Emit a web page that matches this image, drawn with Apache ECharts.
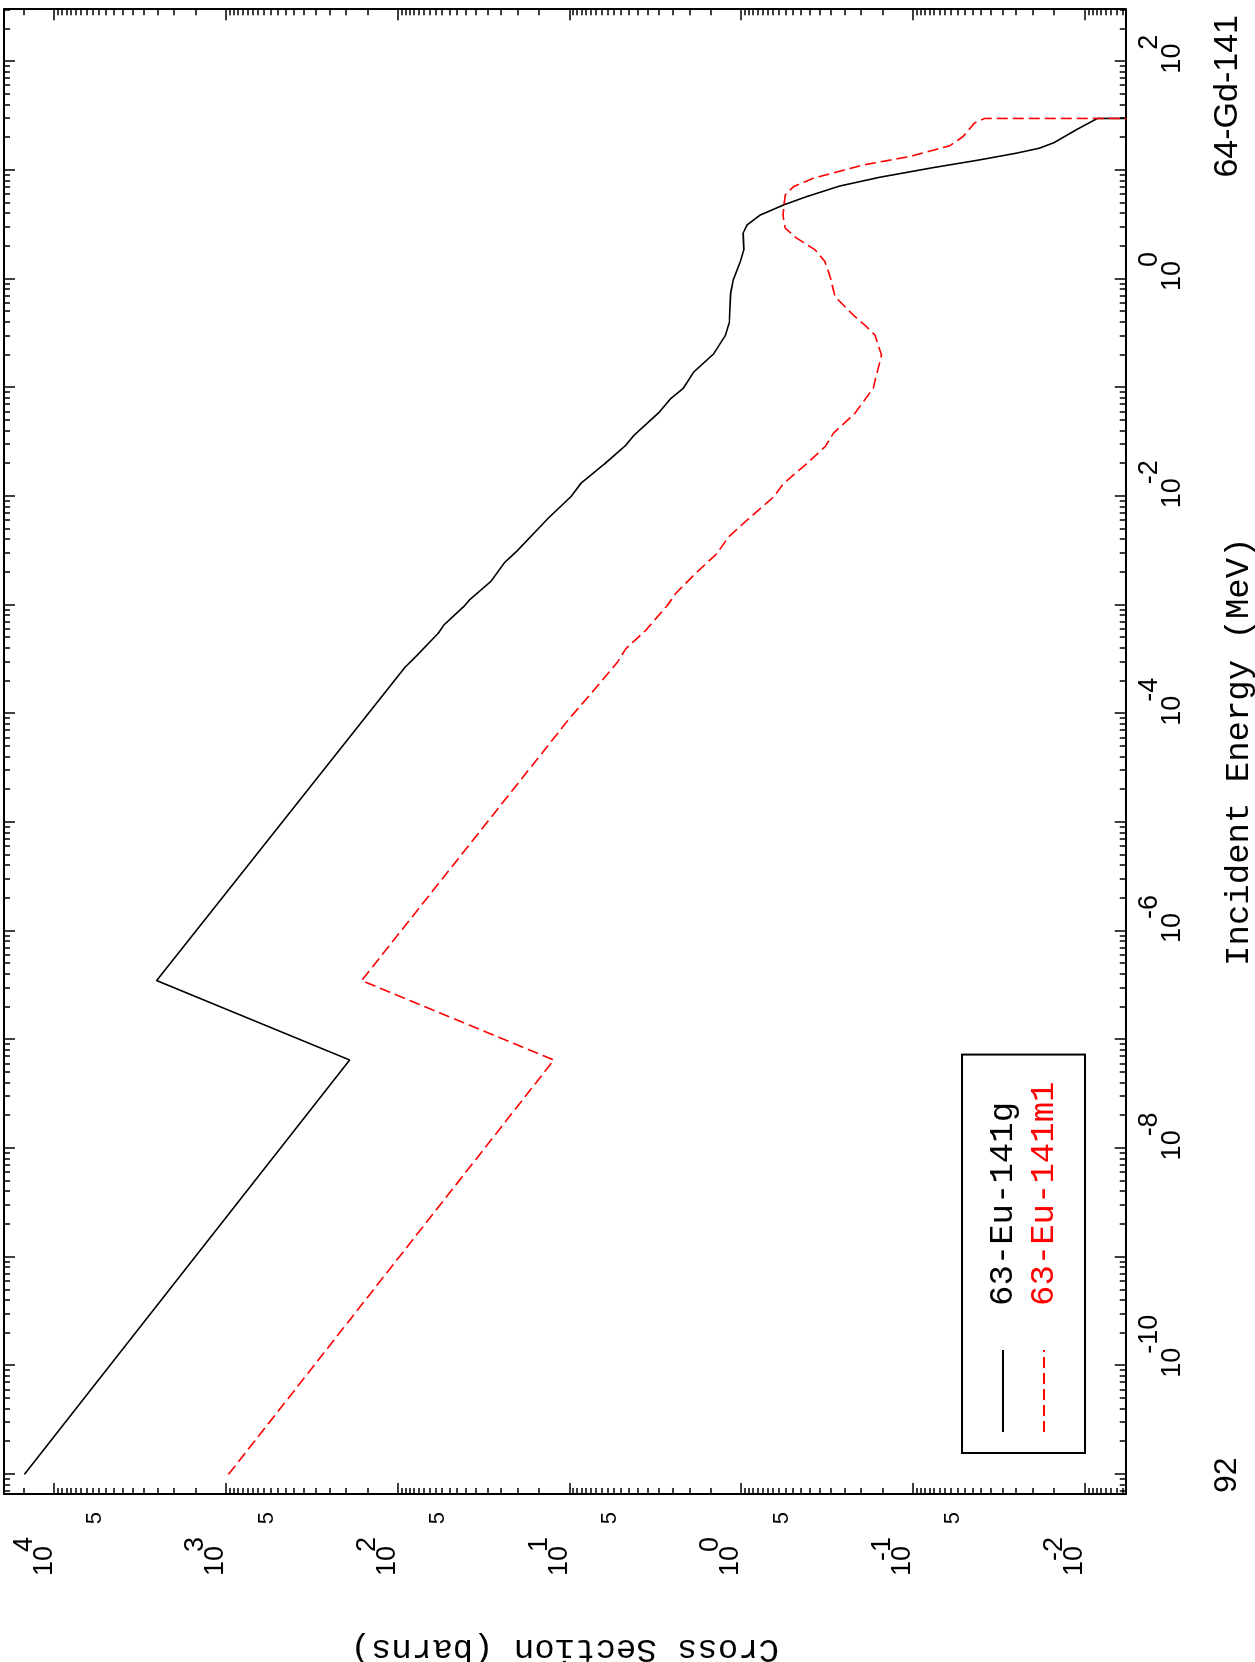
<!DOCTYPE html>
<html>
<head>
<meta charset="utf-8">
<title>63-Eu-141 to 64-Gd-141</title>
<style>
  html, body { margin: 0; padding: 0; background: #fff; }
  #page { position: relative; width: 1255px; height: 1662px; overflow: hidden; }
  /* plot is laid out landscape, then turned a quarter turn counter-clockwise */
  #main {
    position: absolute; left: 0; top: 0;
    width: 1662px; height: 1255px;
    transform-origin: 0 0;
    transform: translateY(1662px) rotate(-90deg);
  }
</style>
</head>
<body>
<div id="page"><div id="main"></div></div>

<script src="https://cdn.jsdelivr.net/npm/echarts@6/dist/echarts.min.js"></script>
<script>
// 63-Eu-141g  (energy in MeV, cross section in barns)
var gEnergy = [1e-11, 6.5e-8, 3.5e-7, 2.7e-4, 3.45e-4, 5.5e-4, 6.5e-4, 9.75e-4, 1.13e-3, 1.66e-3,
  2.48e-3, 3.13e-3, 6.26e-3, 9.9e-3, 0.0132, 0.0198, 0.0296, 0.0366, 0.0593, 0.0797,
  0.0986, 0.14, 0.203, 0.305, 0.396, 0.738, 0.98, 1.44, 1.85, 2.64,
  3.14, 3.88, 4.8, 5.73, 7.18, 8.64, 10.45, 12.47, 14.36, 15.97,
  18.0, 23.5, 30, 30];
var gXs = [14900, 190, 2530, 90, 77, 58, 54, 41, 37.8, 28.5,
  23.7, 20.2, 13.3, 9.8, 8.55, 6.25, 4.68, 4.19, 3.0, 2.56,
  2.17, 1.88, 1.45, 1.23, 1.17, 1.15, 1.11, 1.01, 0.963, 0.972,
  0.922, 0.772, 0.565, 0.414, 0.265, 0.155, 0.0796, 0.0408, 0.025, 0.0183,
  0.015, 0.0112, 0.0084, 0.001];

// 63-Eu-141m1
var mEnergy = [1e-11, 6.5e-8, 3.5e-7, 9.0e-5, 1.53e-4, 2.99e-4, 3.97e-4, 5.86e-4, 9.95e-4, 1.28e-3,
  2.02e-3, 2.98e-3, 4.24e-3, 6.04e-3, 9.89e-3, 0.01315, 0.0194, 0.0286, 0.038, 0.058,
  0.0986, 0.2, 0.305, 0.364, 0.466, 0.687, 1.05, 1.44, 1.85, 2.37,
  2.93, 3.88, 5.94, 7.08, 8.46, 11.2, 13.4, 16.8, 20.4, 27.2,
  30, 30];
var mXs = [966, 12.3, 162, 10.0, 7.47, 5.23, 4.68, 3.58, 2.68, 2.40,
  1.80, 1.38, 1.18, 0.922, 0.646, 0.565, 0.423, 0.324, 0.29, 0.217,
  0.17, 0.152, 0.166, 0.186, 0.222, 0.283, 0.303, 0.324, 0.37, 0.473,
  0.553, 0.57, 0.553, 0.494, 0.378, 0.194, 0.104, 0.061, 0.051, 0.0437,
  0.0382, 0.001];

var seriesNames = ['63-Eu-141g', '63-Eu-141m1'];
var seriesColors = ['#000000', '#ff0000'];

// axis ranges, tick decades and labelled decades
var energyRange = [6.6e-12, 303];
var xsRange = [5.75e-3, 1.96e4];
var energyDecades = [-11, -10, -9, -8, -7, -6, -5, -4, -3, -2, -1, 0, 1, 2];
var energyLabelDecades = [-10, -8, -6, -4, -2, 0, 2];
var xsDecades = [-2, -1, 0, 1, 2, 3, 4];
var xsFives = [0.05, 0.5, 5, 50, 500, 5000];
var energyMinorSteps = [2, 3, 4, 5, 6, 7, 8, 9];
var xsMinorSteps = [1.5, 2, 2.5, 3, 3.5, 4, 4.5, 5, 5.5, 6, 6.5, 7, 7.5, 8, 8.5, 9, 9.5];

function pow10(list) {
  return list.map(function (p) { return Math.pow(10, p); });
}
function minorTicks(fromDecade, toDecade, steps, range) {
  var out = [];
  for (var d = fromDecade; d <= toDecade; d++) {
    steps.forEach(function (m) {
      var v = m * Math.pow(10, d);
      if (v > range[0] && v < range[1]) out.push(v);
    });
  }
  return out;
}
function expText(v) {
  var p = Math.round(Math.log10(v));
  return p < 0 ? '-' + (-p) : '' + p;
}

var energyMajor = pow10(energyDecades);
var energyLabels = pow10(energyLabelDecades);
var energyMinor = minorTicks(-12, 2, energyMinorSteps, energyRange);
var xsMajor = pow10(xsDecades);
var xsMinor = minorTicks(-3, 4, xsMinorSteps, xsRange);

var numFont = 'Liberation Sans';
var monoFont = 'Liberation Mono';
var frame = { show: true, lineStyle: { color: '#000', width: 2 } };
var noLine = { show: false };

// one helper for the stacked log axes (major ticks / minor ticks / labels)
function logAxis(range, pos, ticks, len, showLine) {
  return {
    type: 'log',
    position: pos,
    min: range[0],
    max: range[1],
    axisLine: showLine ? frame : noLine,
    axisTick: ticks ? {
      show: true, inside: true, length: len, customValues: ticks,
      lineStyle: { color: '#000', width: 1.5 }
    } : { show: false },
    axisLabel: { show: false },
    splitLine: { show: false },
    minorTick: { show: false },
    minorSplitLine: { show: false }
  };
}

// bottom: incident energy
var xMain = logAxis(energyRange, 'bottom', energyMajor, 11, true);
xMain.axisLabel = {
  show: true,
  customValues: energyLabels,
  margin: 13,
  align: 'center',
  verticalAlign: 'top',
  formatter: function (v) {
    var s = expText(v);
    return '{e' + s.length + '|' + s + '}\n{b|10}';
  },
  rich: {
    b: { fontFamily: numFont, fontSize: 27, color: '#000', lineHeight: 22.5, padding: [0, 0, 0, 6] },
    e1: { fontFamily: numFont, fontSize: 27, color: '#000', lineHeight: 22.5, padding: [0, 0, 0, 39] },
    e2: { fontFamily: numFont, fontSize: 27, color: '#000', lineHeight: 22.5, padding: [0, 0, 0, 48] },
    e3: { fontFamily: numFont, fontSize: 27, color: '#000', lineHeight: 22.5, padding: [0, 0, 0, 63] }
  }
};
xMain.name = 'Incident Energy (MeV)';
xMain.nameLocation = 'middle';
xMain.nameGap = 96;
xMain.nameTextStyle = { fontFamily: monoFont, fontSize: 34, color: '#000' };

// left: cross section
var yMain = logAxis(xsRange, 'left', xsMajor, 11, true);
yMain.axisLabel = {
  show: true,
  customValues: xsMajor,
  margin: 43,
  align: 'right',
  verticalAlign: 'bottom',
  formatter: function (v) {
    return '{e|' + expText(v) + '}\n{b|10}';
  },
  rich: {
    b: { fontFamily: numFont, fontSize: 27, color: '#000', lineHeight: 20, padding: [0, 9, 0, 0] },
    e: { fontFamily: numFont, fontSize: 27, color: '#000', lineHeight: 20 }
  }
};
yMain.name = 'Cross Section (barns)';
yMain.nameLocation = 'middle';
yMain.nameRotate = 90;
yMain.nameGap = 138;
yMain.nameTextStyle = { fontFamily: monoFont, fontSize: 34, color: '#000' };

var yFives = logAxis(xsRange, 'left', null, 0, false);
yFives.axisLabel = {
  show: true,
  customValues: xsFives,
  margin: 18,
  align: 'right',
  verticalAlign: 'bottom',
  fontFamily: numFont,
  fontSize: 22,
  color: '#000',
  formatter: function () { return '5'; }
};

var chart = echarts.init(document.getElementById('main'));

var option = {
  animation: false,
  backgroundColor: '#fff',
  textStyle: { fontFamily: numFont },
  grid: {
    left: 168, right: 9.3, top: 4, bottom: 129.3,
    containLabel: false,
    outerBoundsMode: 'none'
  },
  xAxis: [
    xMain,
    logAxis(energyRange, 'bottom', energyMinor, 6, false),
    logAxis(energyRange, 'top', energyMajor, 11, true),
    logAxis(energyRange, 'top', energyMinor, 6, false)
  ],
  yAxis: [
    yMain,
    logAxis(xsRange, 'left', xsMinor, 6, false),
    yFives,
    logAxis(xsRange, 'right', xsMajor, 11, true),
    logAxis(xsRange, 'right', xsMinor, 6, false)
  ],
  legend: {
    orient: 'vertical',
    left: 209,
    top: 962,
    padding: [24, 27, 24, 20],
    borderColor: '#000',
    borderWidth: 2,
    itemWidth: 82,
    itemHeight: 20,
    itemGap: 7,
    selectedMode: false,
    textStyle: { fontFamily: monoFont, fontSize: 34, lineHeight: 34, padding: [0, 0, 0, 39] },
    data: [
      { name: seriesNames[0], textStyle: { color: seriesColors[0] } },
      { name: seriesNames[1], textStyle: { color: seriesColors[1] } }
    ]
  },
  graphic: [
    {
      type: 'text', left: 169, top: 1211,
      style: { text: '92', font: '32px "Liberation Sans"', fill: '#000' }
    },
    {
      type: 'text', right: 15, top: 1211,
      style: { text: '64-Gd-141', font: '34px "Liberation Sans"', fill: '#000' }
    }
  ],
  series: [
    {
      name: seriesNames[0],
      type: 'line',
      xAxisIndex: 0,
      yAxisIndex: 0,
      symbol: 'none',
      clip: true,
      itemStyle: { color: seriesColors[0], opacity: 0 },
      lineStyle: { color: seriesColors[0], width: 1.6 },
      data: gEnergy.map(function (e, i) { return [e, gXs[i]]; })
    },
    {
      name: seriesNames[1],
      type: 'line',
      xAxisIndex: 0,
      yAxisIndex: 0,
      symbol: 'none',
      clip: true,
      itemStyle: { color: seriesColors[1], opacity: 0 },
      lineStyle: { color: seriesColors[1], width: 1.6, type: [11, 5] },
      data: mEnergy.map(function (e, i) { return [e, mXs[i]]; })
    }
  ]
};

chart.setOption(option);
</script>
</body>
</html>
